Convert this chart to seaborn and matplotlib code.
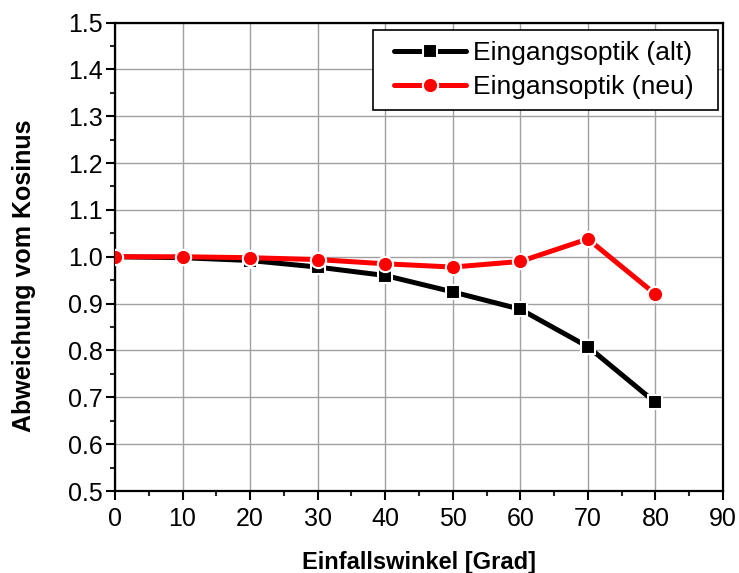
import matplotlib
matplotlib.use("Agg")
import matplotlib.pyplot as plt
import seaborn as sns
import pandas as pd
from matplotlib.ticker import MultipleLocator, FormatStrFormatter
from matplotlib.patches import Rectangle

# Einfallswinkel in Grad
winkel = [0, 10, 20, 30, 40, 50, 60, 70, 80]
# Abweichung vom Kosinus je Eingangsoptik
alt = [1.000, 0.998, 0.992, 0.978, 0.960, 0.925, 0.888, 0.808, 0.689]
neu = [1.000, 1.000, 0.998, 0.994, 0.985, 0.978, 0.990, 1.038, 0.920]
namen = ["Eingangsoptik (alt)", "Eingansoptik (neu)"]
farben = ["black", "red"]
marker = ["s", "o"]
markergroesse = [10, 11]

sns.set_style("white")
plt.rcParams["font.family"] = ["Liberation Sans", "DejaVu Sans"]
plt.rcParams["text.color"] = "black"
plt.rcParams["axes.labelcolor"] = "black"

fig = plt.figure(figsize=(7.39, 5.73), dpi=100)
ax = fig.add_axes([0.1556, 0.1431, 0.8227, 0.8176])

df = pd.DataFrame({
    "Winkel": winkel * 2,
    "Wert": alt + neu,
    "Serie": [namen[0]] * len(winkel) + [namen[1]] * len(winkel),
})

for i, name in enumerate(namen):
    sub = df[df["Serie"] == name]
    sns.lineplot(data=sub, x="Winkel", y="Wert", ax=ax, color=farben[i],
                 marker=marker[i], markersize=markergroesse[i],
                 markeredgecolor="white", markeredgewidth=1.5,
                 linewidth=3.6, label=name, zorder=3 + i)

ax.set_xlim(0, 90)
ax.set_ylim(0.5, 1.5)
ax.xaxis.set_major_locator(MultipleLocator(10))
ax.xaxis.set_minor_locator(MultipleLocator(5))
ax.yaxis.set_major_locator(MultipleLocator(0.1))
ax.yaxis.set_minor_locator(MultipleLocator(0.05))
ax.yaxis.set_major_formatter(FormatStrFormatter("%.1f"))

ax.grid(True, which="major", color="#a0a0a0", linewidth=1.0)
for s in ax.spines.values():
    s.set_visible(True)
    s.set_color("black")
    s.set_linewidth(1.6)

ax.tick_params(axis="both", which="major", direction="out", length=6.5, width=1.5,
               labelsize=18, colors="black", bottom=True, left=True)
ax.tick_params(axis="x", which="major", pad=5)
ax.tick_params(axis="y", which="major", pad=2)
ax.tick_params(axis="both", which="minor", direction="out", length=3.8, width=1.5,
               bottom=True, left=True)

ax.set_xlabel("Einfallswinkel [Grad]", fontsize=17, fontweight="bold", labelpad=14.5)
ax.set_ylabel("Abweichung vom Kosinus", fontsize=18, fontweight="bold")
ax.yaxis.set_label_coords(-0.130, 0.459)

leg = ax.legend(loc="upper right", bbox_to_anchor=(0.9695, 0.984), fontsize=19,
                frameon=False, handlelength=2.7, borderaxespad=0,
                borderpad=0.42, labelspacing=0.39, handletextpad=0.27)
leg.set_zorder(6)

# Legend frame, widened horizontally around the entries
fig.canvas.draw()
bb = leg.get_window_extent(fig.canvas.get_renderer())
inv = ax.transAxes.inverted()
(x0, y0), (x1, y1) = inv.transform([(bb.x0 - 10, bb.y0), (bb.x1 + 13.5, bb.y1)])
ax.add_patch(Rectangle((x0, y0), x1 - x0, y1 - y0, transform=ax.transAxes,
                       facecolor="white", edgecolor="black", linewidth=1.2,
                       zorder=5.5, clip_on=False))

fig.savefig("out.png", dpi=100)
